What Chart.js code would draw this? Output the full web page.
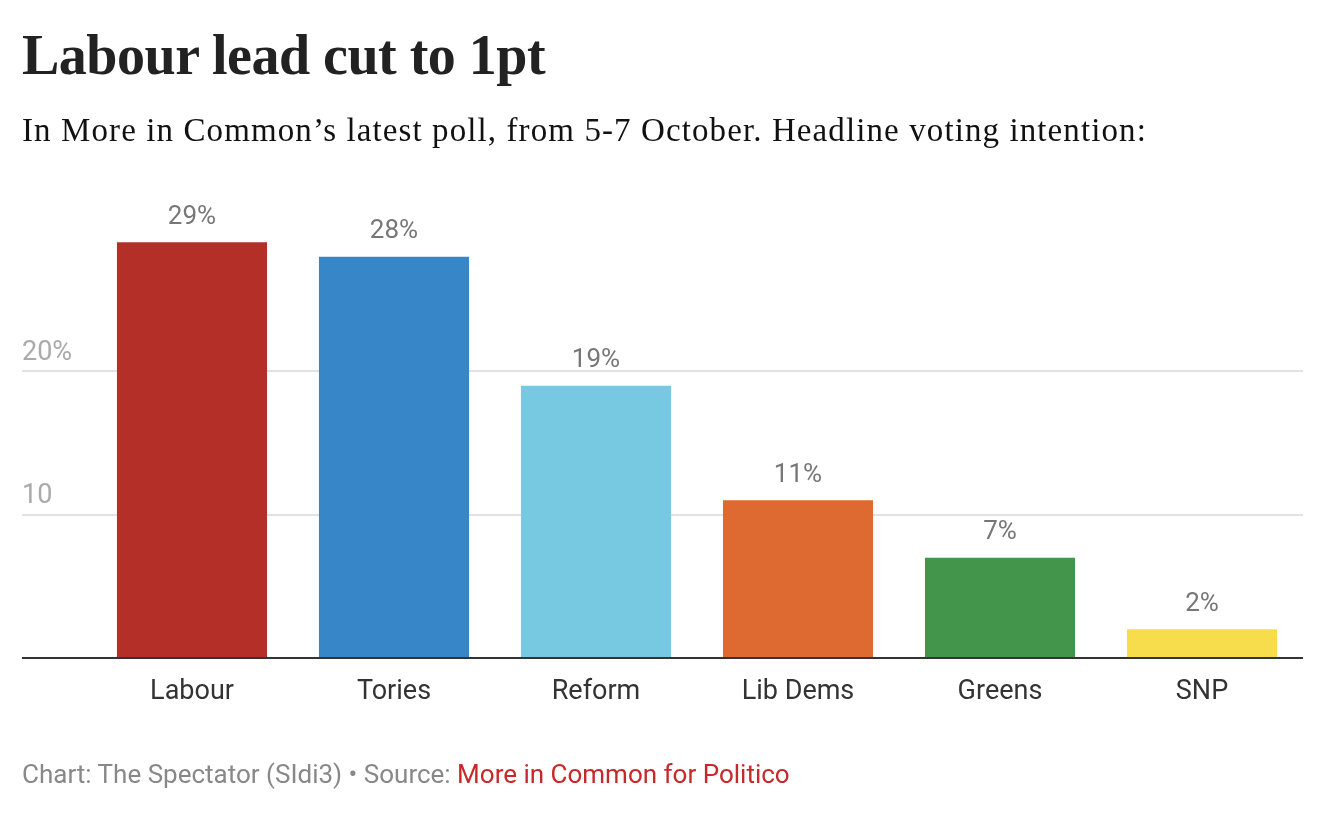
<!DOCTYPE html>
<html>
<head>
<meta charset="utf-8">
<script src="https://cdn.jsdelivr.net/npm/chart.js@4"></script>
<style>
  html, body { margin: 0; padding: 0; background: #fff; }
  body { width: 1336px; height: 834px; position: relative; overflow: hidden; }
  #title { position: absolute; left: 22px; top: 23px; font-family: "Liberation Serif", serif; font-weight: bold; font-size: 56px; letter-spacing: -0.5px; color: #222; white-space: nowrap; }
  #subtitle { position: absolute; left: 22px; top: 112px; font-family: "Liberation Serif", serif; font-size: 33px; letter-spacing: 1.1px; color: #111; white-space: nowrap; }
  #footer { position: absolute; left: 22px; top: 759px; font-family: Roboto, sans-serif; font-size: 26px; color: #888; white-space: nowrap; }
  #footer span { color: #c8282a; }
  #wrap { position: absolute; left: 0; top: 0; width: 1336px; height: 834px; }
</style>
</head>
<body>
<div id="wrap"><canvas id="c" width="1336" height="834"></canvas></div>
<div id="title">Labour lead cut to 1pt</div>
<div id="subtitle">In More in Common’s latest poll, from 5-7 October. Headline voting intention:</div>
<div id="footer">Chart: The Spectator (SIdi3) • Source: <span>More in Common for Politico</span></div>
<script>
const categories = ['Labour', 'Tories', 'Reform', 'Lib Dems', 'Greens', 'SNP'];
const values = [29, 28, 19, 11, 7, 2];
const barColors = ['#b32f27', '#3787c8', '#77c9e2', '#de6a32', '#42954b', '#f7dc4b'];
const yTickValues = [0, 10, 20];
const yTickLabels = ['', '10', '20%'];

const valueLabels = {
  id: 'valueLabels',
  afterDatasetsDraw(chart) {
    const ctx = chart.ctx;
    const meta = chart.getDatasetMeta(0);
    ctx.save();
    ctx.font = '26px Roboto';
    ctx.fillStyle = '#777';
    ctx.textAlign = 'center';
    ctx.textBaseline = 'middle';
    meta.data.forEach((bar, i) => {
      ctx.fillText(values[i] + '%', bar.x, bar.y - 25);
    });
    ctx.restore();
  }
};

new Chart(document.getElementById('c'), {
  type: 'bar',
  data: {
    labels: categories,
    datasets: [{
      data: values,
      backgroundColor: barColors,
      borderWidth: 0,
      categoryPercentage: 1,
      barPercentage: 0.743
    }]
  },
  options: {
    responsive: false,
    animation: false,
    devicePixelRatio: 1,
    layout: { padding: { left: 22, right: 33, top: 228, bottom: 0 } },
    plugins: { legend: { display: false }, title: { display: false }, tooltip: { enabled: false } },
    scales: {
      x: {
        grid: { display: false },
        border: { display: false },
        ticks: { color: '#333', font: { family: 'Roboto', size: 27 }, padding: 10 },
        afterFit(axis) { axis.height = 176; }
      },
      y: {
        min: 0,
        max: 30,
        afterBuildTicks(axis) { axis.ticks = yTickValues.map(v => ({ value: v })); },
        afterFit(axis) { axis.width = 69; },
        border: { display: false },
        grid: {
          drawTicks: true,
          tickLength: 69,
          color: (c) => c.tick && c.tick.value === 0 ? '#333' : '#e2e2e2',
          lineWidth: 2
        },
        ticks: {
          crossAlign: 'far',
          labelOffset: -18,
          color: '#aaa',
          font: { family: 'Roboto', size: 27 },
          callback: (v) => yTickLabels[yTickValues.indexOf(v)]
        }
      }
    }
  },
  plugins: [valueLabels]
});
</script>
</body>
</html>
